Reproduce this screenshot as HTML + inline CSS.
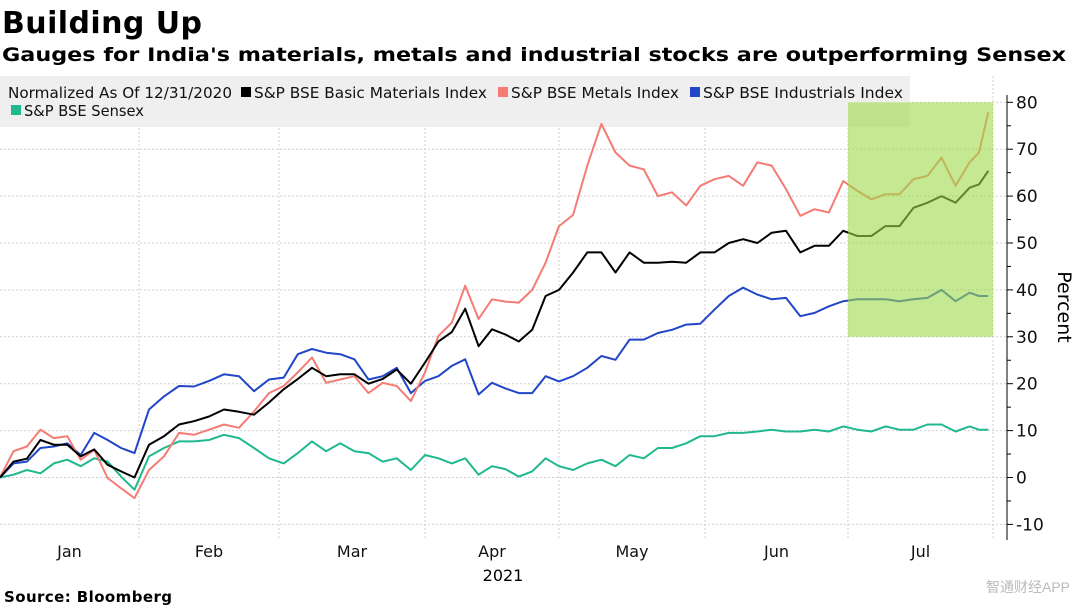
<!DOCTYPE html>
<html><head><meta charset="utf-8"><style>
body{margin:0;background:#fff;}
svg{display:block;font-family:"DejaVu Sans","Liberation Sans",sans-serif;}
</style></head><body>
<svg id="chart" width="1078" height="605" viewBox="0 0 1078 605">
<rect width="1078" height="605" fill="#fff"/>
<text x="2" y="33" font-size="30" font-weight="bold" textLength="200">Building Up</text>
<text x="2" y="61" font-size="19" font-weight="bold" textLength="1064" lengthAdjust="spacingAndGlyphs">Gauges for India's materials, metals and industrial stocks are outperforming Sensex</text>
<g id="grid"></g>
<rect x="0" y="76" width="910" height="51" fill="#efefef"/>
<g font-size="15" fill="#111">
<text x="8" y="98" textLength="224" lengthAdjust="spacingAndGlyphs">Normalized As Of 12/31/2020</text>
<g><rect x="241" y="87" width="10" height="10" fill="#000"/><text x="254" y="98" textLength="233" lengthAdjust="spacingAndGlyphs">S&amp;P BSE Basic Materials Index</text></g>
<g><rect x="498" y="87" width="10" height="10" fill="#f47c74"/><text x="511" y="98" textLength="168" lengthAdjust="spacingAndGlyphs">S&amp;P BSE Metals Index</text></g>
<g><rect x="690" y="87" width="10" height="10" fill="#2146c7"/><text x="703" y="98" textLength="200" lengthAdjust="spacingAndGlyphs">S&amp;P BSE Industrials Index</text></g>
<g><rect x="11" y="105" width="10" height="10" fill="#20b88e"/><text x="24" y="116" textLength="120" lengthAdjust="spacingAndGlyphs">S&amp;P BSE Sensex</text></g>
</g>
<g id="series"></g>
<g id="axis"></g>
<text transform="translate(1058,307) rotate(90)" font-size="19" text-anchor="middle">Percent</text>
<g id="xaxis" font-size="16" text-anchor="middle" fill="#111"></g>
<text x="503" y="581" font-size="16" text-anchor="middle">2021</text>
<text x="4" y="602" font-size="15" font-weight="bold" textLength="168">Source: Bloomberg</text>
<text x="1070" y="592" font-size="14" fill="#bbb" text-anchor="end" font-family="Liberation Sans,Noto Sans CJK SC,sans-serif">智通财经APP</text>
</svg>
<script>
const days=[0,3,6,9,12,15,18,21,24,27,30,33,36,39,42,45,48,51,54,57,60,63,66,69,72,75,78,81,84,87,90,93,96,99,102,105,108,111,114,117,120,123,126,129,132,135,138,141,144,147,150,153,156,159,162,165,168,171,174,177,180,183,186,189,192,195,198,201,204,207,209,211];
const basicMaterials=[0,3.4,4,8,7,7,4.5,6,2.7,1.3,0,7,8.8,11.3,12,13,14.5,14,13.4,16,18.8,21,23.4,21.6,22,22,20,21,23,20,24.5,29,31,36,28,31.6,30.5,29,31.5,38.7,40,43.7,48,48,43.7,48,45.8,45.8,46,45.8,48,48,50,50.8,50,52.2,52.6,48,49.4,49.4,52.6,51.5,51.5,53.6,53.6,57.5,58.6,60,58.6,61.8,62.5,65.4];
const metals=[0,5.6,6.6,10.2,8.4,8.8,3.8,5.9,-0.1,-2.3,-4.4,1.6,4.5,9.5,9.1,10.2,11.3,10.6,14.1,18,19.5,22.4,25.6,20.2,20.9,21.6,18,20.2,19.5,16.3,22.4,30.2,33,40.9,33.8,38,37.5,37.3,40,45.8,53.6,56,66.5,75.4,69.3,66.5,65.7,60,60.8,58,62.2,63.6,64.3,62.2,67.2,66.5,61.5,55.8,57.2,56.5,63.2,61.1,59.3,60.4,60.4,63.6,64.3,68.2,62.2,67.2,69.3,77.9];
const industrials=[0,3,3.4,6.3,6.6,7.3,4.8,9.5,8,6.3,5.2,14.5,17.3,19.5,19.4,20.6,22,21.6,18.4,20.9,21.3,26.3,27.4,26.6,26.3,25.2,20.9,21.6,23.4,18,20.6,21.6,23.8,25.2,17.7,20.2,19,18,18,21.6,20.5,21.6,23.4,25.9,25.1,29.4,29.4,30.8,31.5,32.6,32.8,35.8,38.7,40.5,39,38,38.3,34.4,35.1,36.5,37.6,38,38,38,37.6,38,38.3,40,37.6,39.4,38.7,38.7];
const sensex=[0,0.6,1.6,0.9,3,3.8,2.4,4.1,3.4,0.2,-2.6,4.5,6.3,7.7,7.7,8,9.1,8.4,6.3,4.1,3,5.2,7.7,5.6,7.3,5.6,5.2,3.4,4.1,1.6,4.8,4.1,3,4.1,0.6,2.4,1.8,0.2,1.3,4.1,2.4,1.6,3,3.8,2.4,4.8,4.1,6.3,6.3,7.3,8.8,8.8,9.5,9.5,9.8,10.2,9.8,9.8,10.2,9.8,10.9,10.2,9.8,10.9,10.2,10.2,11.3,11.3,9.8,10.9,10.2,10.2];
const yTicks=[80,70,60,50,40,30,20,10,0,-10];
const monthLabels=["Jan","Feb","Mar","Apr","May","Jun","Jul"];
const monthStarts=[0,31,59,90,120,151,181,212];
const highlightStart=181, highlightEnd=212, highlightLow=30, highlightHigh=80;

const NS="http://www.w3.org/2000/svg";
// piecewise time scale (trading-day axis)
const xDomain=[0,31,59,90,120,151,181,212];
const xRange=[0,139,279,425,559,705,848,993];
function X(d){
 for(let i=1;i<xDomain.length;i++){
  if(d<=xDomain[i]||i===xDomain.length-1){
   const t=(d-xDomain[i-1])/(xDomain[i]-xDomain[i-1]);
   return xRange[i-1]+t*(xRange[i]-xRange[i-1]);
  }
 }
}
const Y=v=>477.5-v*4.69;
function mk(tag,attrs,parent){const e=document.createElementNS(NS,tag);for(const k in attrs)e.setAttribute(k,attrs[k]);parent.appendChild(e);return e;}
const grid=document.getElementById('grid'),ser=document.getElementById('series'),ax=document.getElementById('axis'),xa=document.getElementById('xaxis');
yTicks.forEach(t=>{
 const l=mk('line',{x1:0,x2:1007,y1:Y(t),y2:Y(t),stroke:'#cfcfcf','stroke-dasharray':'2,2'},grid);
 
 
 const tk=mk('line',{x1:1007,x2:1013,y1:Y(t),y2:Y(t),stroke:'#000'},ax);
 
 
 if(t<80){const mn=mk('line',{x1:1007,x2:1011,y1:Y(t+5),y2:Y(t+5),stroke:'#000'},ax);
 
 }
 const tx=mk('text',{x:1016,y:Y(t)+6,'font-size':17,fill:'#111'},ax);
 tx.textContent=t;
 
 
});
const axl=mk('line',{x1:1007,x2:1007,y1:95,y2:540,stroke:'#000'},ax);


monthStarts.forEach((d,i)=>{
 if(i>0){const l=mk('line',{x1:X(d),x2:X(d),y1:76,y2:540,stroke:'#d0d0d0','stroke-dasharray':'2,2'},grid);
 
 }
 if(i<monthLabels.length){const t=mk('text',{x:(X(d)+X(monthStarts[i+1]))/2,y:557},xa);t.textContent=monthLabels[i];
 
 }
});
function line(vals,color,name){
 const p=mk('polyline',{points:vals.map((v,i)=>X(days[i]).toFixed(1)+','+Y(v).toFixed(1)).join(' '),fill:'none',stroke:color,'stroke-width':2,'stroke-linejoin':'round'},ser);
 
 
}
line(sensex,'#20b88e','line-sensex');
line(industrials,'#2146c7','line-industrials');
line(metals,'#f47c74','line-metals');
line(basicMaterials,'#000','line-basic-materials');
const hb=mk('rect',{x:X(highlightStart),y:Y(highlightHigh),width:X(highlightEnd)-X(highlightStart),height:Y(highlightLow)-Y(highlightHigh),fill:'#9fd94a','fill-opacity':0.6},ser);


</script>
</body></html>
